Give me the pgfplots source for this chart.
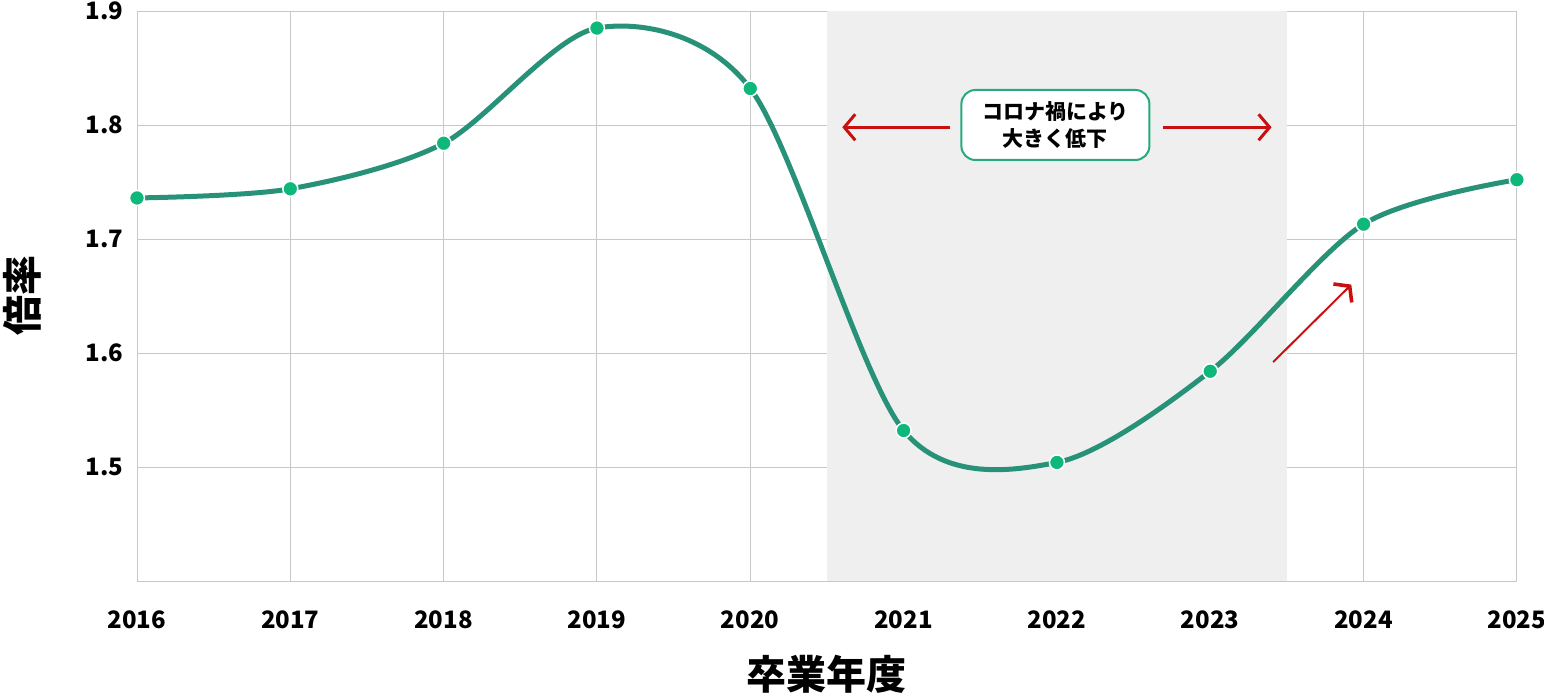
\documentclass[border=0pt]{standalone}
\usepackage{fontspec}
\setmainfont{Noto Sans CJK JP}
\usepackage{pgfplots}
\pgfplotsset{compat=1.18}
\usetikzlibrary{arrows.meta}

\definecolor{lineteal}{RGB}{40,146,120}
\definecolor{dotgreen}{RGB}{14,184,122}
\definecolor{gridgray}{RGB}{200,200,200}
\definecolor{bgshade}{RGB}{239,239,239}
\definecolor{arrowred}{RGB}{200,16,16}
\definecolor{boxgreen}{RGB}{40,170,125}

\begin{document}
\begin{tikzpicture}
\begin{axis}[
    set layers,
    at={(0,0)}, anchor=south west,
    scale only axis,
    width=1380pt, height=570pt,
    xmin=2016, xmax=2025,
    ymin=1.4, ymax=1.9,
    xtick={2016,...,2025},
    ytick={1.5,1.6,1.7,1.8,1.9},
    xticklabel style={/pgf/number format/1000 sep={}, yshift=-26pt},
    yticklabel style={/pgf/number format/fixed, /pgf/number format/precision=1,
        /pgf/number format/fixed zerofill, xshift=-10pt},
    /pgf/number format/assume math mode=true,
    tick label style={font=\fontsize{24}{28}\selectfont\bfseries},
    major tick length=0pt,
    grid=major,
    grid style={gridgray, line width=0.9pt},
    axis line style={gridgray, line width=0.9pt},
    xlabel={卒業年度},
    ylabel={倍率},
    label style={font=\fontsize{40}{44}\selectfont\bfseries},
    xlabel style={yshift=-20pt},
    ylabel style={yshift=38pt},
    clip=false,
]
\fill[bgshade, on layer=axis background] (axis cs:2020.5,1.4) rectangle (axis cs:2023.5,1.9);

\addplot[lineteal, line width=5pt, smooth, tension=0.5,
    mark=*, mark size=7.5pt,
    mark options={fill=dotgreen, draw=white, line width=1.5pt}]
coordinates {
    (2016,1.736) (2017,1.744) (2018,1.784) (2019,1.885) (2020,1.832)
    (2021,1.532) (2022,1.504) (2023,1.584) (2024,1.713) (2025,1.752)
};

\draw[arrowred, line width=2.6pt, -{Straight Barb[length=11pt, width=26pt, line width=3pt]}]
    (axis cs:2021.30,1.798) -- (axis cs:2020.60,1.798);
\draw[arrowred, line width=2.6pt, -{Straight Barb[length=11pt, width=26pt, line width=3pt]}]
    (axis cs:2022.69,1.798) -- (axis cs:2023.40,1.798);
\node[draw=boxgreen, line width=2pt, fill=white, rounded corners=14pt,
      minimum width=188pt, minimum height=70pt, align=center,
      font=\fontsize{21}{27}\selectfont\bfseries]
    at (axis cs:2021.99,1.8) {コロナ禍により\\大きく低下};

\draw[arrowred, line width=2pt, -{Straight Barb[length=10pt, width=26pt, line width=3.6pt]}]
    (axis cs:2023.41,1.592) -- (axis cs:2023.92,1.660);
\end{axis}
\pgfresetboundingbox
\path (-137pt,-114pt) rectangle (1407pt,581pt);
\end{tikzpicture}
\end{document}
